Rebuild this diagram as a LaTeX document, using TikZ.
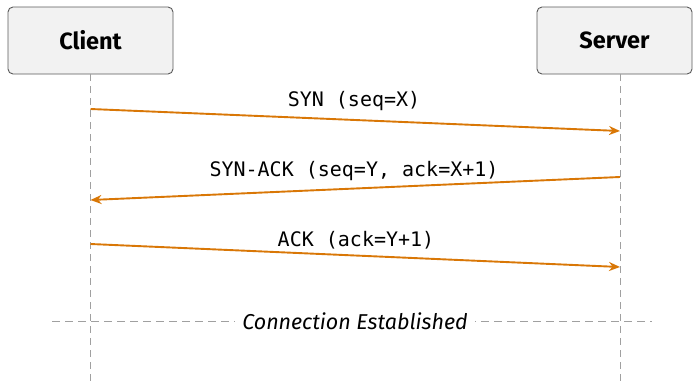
\documentclass[tikz,border=0pt]{standalone}
\usepackage{fontspec}
\setmainfont{Fira Sans}
\setmonofont{DejaVu Sans Mono}
\usetikzlibrary{arrows.meta}
\definecolor{msgorange}{RGB}{217,119,6}
\definecolor{boxfill}{RGB}{242,242,242}
\definecolor{boxline}{RGB}{90,90,90}
\definecolor{lifegray}{RGB}{160,160,160}
\tikzset{
  actor/.style={draw=boxline, fill=boxfill, rounded corners=5pt, line width=0.9pt,
    minimum height=67pt, font=\fontsize{23.5}{26}\selectfont\bfseries},
  lifeline/.style={draw=lifegray, line width=0.9pt, dash pattern=on 7pt off 5pt},
  msg/.style={draw=msgorange, line width=1.9pt, -{Stealth[length=11pt,width=9pt]}},
  msglabel/.style={font=\fontsize{20}{23}\selectfont\ttfamily, inner sep=0pt}
}
\begin{document}
\begin{tikzpicture}[x=1pt, y=-1pt]
  \useasboundingbox (0,0) rectangle (693,386);

  % participants
  \node [actor, minimum width=165pt] at (90.5, 40.5) (client) {Client};
  \node [actor, minimum width=155pt] at (614.5, 40.5) (server) {Server};
  \coordinate (clientEnd) at (90.5, 386);
  \coordinate (serverEnd) at (620, 386);
  \draw [lifeline] (client.south) -- (clientEnd);
  \draw [lifeline] (client.south -| serverEnd) -- (serverEnd);

  % handshake
  \coordinate (synA) at (90.5, 109);
  \coordinate (synB) at (620, 131);
  \draw [msg] (synA) -- (synB);
  \node [msglabel] at (354, 101) (synL) {SYN (seq=X)};

  \coordinate (sackA) at (620, 177);
  \coordinate (sackB) at (90.5, 200);
  \draw [msg] (sackA) -- (sackB);
  \node [msglabel] at (354, 171) (sackL) {SYN-ACK (seq=Y, ack=X+1)};

  \coordinate (ackA) at (90.5, 244);
  \coordinate (ackB) at (620, 267);
  \draw [msg] (ackA) -- (ackB);
  \node [msglabel] at (356, 240) (ackL) {ACK (ack=Y+1)};

  % separator
  \coordinate (sepL) at (52, 321);
  \coordinate (sepR) at (652, 321);
  \draw [lifeline, dash pattern=on 8pt off 5pt] (sepL) -- (sepR);
  \node [fill=white, inner xsep=7pt, inner ysep=3pt, font=\fontsize{21.5}{24}\selectfont\itshape] at (355, 321) (est) {Connection Established};
\end{tikzpicture}
\end{document}
